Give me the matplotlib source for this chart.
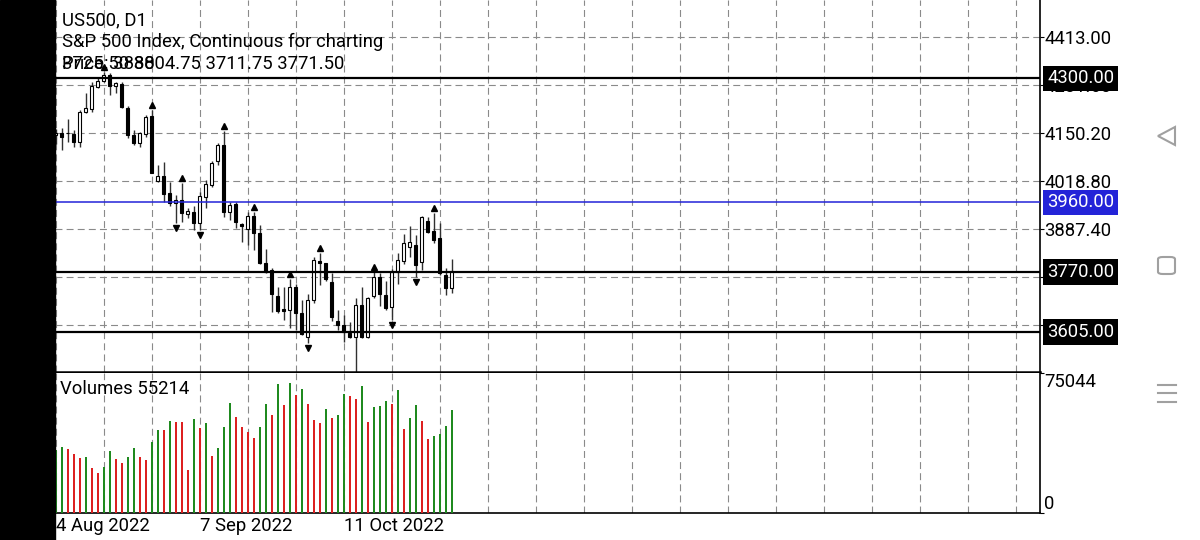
import numpy as np
import matplotlib.pyplot as plt
import matplotlib.transforms as mtransforms
from matplotlib.patches import Rectangle, Polygon, FancyBboxPatch
from matplotlib.lines import Line2D

plt.rcParams['font.family'] = ['Roboto', 'DejaVu Sans']
plt.rcParams['lines.scale_dashes'] = False

# daily bars, US500 D1 (bar 0 = 4 Aug 2022)
opens = [4145.0, 4151.0, 4150.5, 4147.5, 4126.4, 4206.9, 4215.1, 4275.3, 4293.4, 4309.0,
         4278.9, 4284.4, 4220.0, 4144.7, 4123.6, 4146.7, 4196.8, 4019.6, 4032.5, 3986.8,
         3959.4, 3966.8, 3928.5, 3934.8, 3904.6, 3975.8, 4007.9, 4074.4, 4117.4, 3934.8,
         3956.2, 3902.4, 3886.6, 3923.0, 3877.3, 3793.5, 3775.2, 3704.0, 3668.4, 3665.6,
         3729.4, 3656.6, 3591.0, 3693.0, 3800.6, 3793.5, 3743.2, 3635.6, 3624.6, 3603.5,
         3592.6, 3679.4, 3591.0, 3704.0, 3756.8, 3706.7, 3674.7, 3770.5, 3800.6, 3838.9,
         3843.6, 3797.9, 3910.1, 3882.8, 3861.9, 3761.5, 3725.50]
highs = [4160.0, 4163.1, 4187.7, 4158.4, 4213.2, 4260.5, 4290.6, 4304.3, 4317.2, 4315.3,
         4290.6, 4290.6, 4224.1, 4158.4, 4153.8, 4199.5, 4213.2, 4062.6, 4071.6, 4016.9,
         3980.5, 4012.5, 3944.1, 3950.4, 3989.5, 4021.5, 4074.4, 4122.0, 4155.7, 3962.2,
         3962.2, 3904.0, 3934.8, 3934.8, 3898.4, 3831.8, 3779.8, 3729.4, 3729.4, 3749.7,
         3736.8, 3693.0, 3709.5, 3811.6, 3820.9, 3795.1, 3766.1, 3665.6, 3651.9, 3633.6,
         3697.7, 3729.4, 3702.1, 3770.5, 3766.1, 3745.9, 3777.1, 3820.9, 3873.7, 3895.6,
         3871.0, 3923.0, 3921.1, 3930.4, 3904.6, 3779.8, 3804.75]
lows = [4120.0, 4103.7, 4126.4, 4112.7, 4112.7, 4205.0, 4208.5, 4272.6, 4290.6, 4254.2,
        4258.9, 4217.8, 4136.5, 4117.4, 4112.7, 4140.1, 4040.7, 4016.0, 3962.2, 3950.4,
        3903.0, 3907.4, 3916.7, 3884.7, 3884.7, 3944.1, 4003.2, 4062.6, 3921.1, 3913.3,
        3889.4, 3852.6, 3843.6, 3829.9, 3791.6, 3766.1, 3661.0, 3656.6, 3638.3, 3615.6,
        3610.9, 3597.2, 3574.5, 3685.7, 3734.1, 3746.0, 3636.4, 3610.9, 3578.9, 3588.2,
        3497.0, 3588.2, 3588.2, 3697.7, 3676.6, 3665.6, 3638.3, 3736.8, 3791.6, 3811.6,
        3756.8, 3775.2, 3875.6, 3848.2, 3761.5, 3707.6, 3711.75]
closes = [4150.0, 4138.4, 4151.0, 4126.4, 4208.5, 4217.8, 4279.7, 4293.4, 4309.0, 4278.9,
          4287.9, 4222.2, 4144.7, 4123.6, 4149.4, 4194.8, 4041.5, 4033.3, 3983.2, 3957.7,
          3966.8, 3930.4, 3936.7, 3904.6, 3977.7, 4009.8, 4066.9, 4117.4, 3934.8, 3953.1,
          3907.4, 3895.0, 3923.0, 3877.3, 3794.3, 3770.5, 3709.5, 3663.8, 3663.8, 3727.8,
          3656.6, 3600.0, 3693.0, 3802.5, 3793.5, 3749.7, 3647.3, 3624.6, 3606.3, 3591.0,
          3679.4, 3592.6, 3697.7, 3756.8, 3709.5, 3670.3, 3770.5, 3802.5, 3850.0, 3852.6,
          3788.8, 3921.1, 3880.0, 3857.3, 3766.1, 3725.1, 3771.50]
volumes = [34000, 35540, 34306, 31465, 29642, 29857, 24121, 21441, 24497, 33234,
           28785, 26962, 30018, 34842, 30018, 28571, 38058, 44490, 44330, 49315,
           48940, 48779, 23210, 50387, 45723, 48082, 30393, 34681, 45938, 58963,
           51620, 45938, 43258, 40202, 46099, 58427, 52531, 68987, 58052, 69523,
           63252, 66468, 58588, 49851, 48243, 55747, 50923, 52370, 63949, 62876,
           60947, 68237, 48779, 56980, 57516, 59874, 58267, 65932, 44866, 50923,
           58052, 49315, 39827, 41274, 42507, 46635, 55214]

fractal_up = [8, 16, 21, 28, 33, 39, 44, 53, 63]
fractal_down = [20, 24, 42, 56, 60]

price_ticks = [4413.00, 4281.60, 4150.20, 4018.80, 3887.40, 3756.00, 3624.60]
levels = [4300.00, 3960.00, 3770.00, 3605.00]
level_colors = ['black', '#2323d8', 'black', 'black']
date_pos = [0, 24, 48]
date_labels = ['4 Aug 2022', '7 Sep 2022', '11 Oct 2022']
vol_max = 75044

opens = np.array(opens); closes = np.array(closes)
highs = np.array(highs); lows = np.array(lows)
volumes = np.array(volumes)
x = np.arange(len(opens))

W, H = 1200, 540
fig = plt.figure(figsize=(W / 100, H / 100), dpi=100)
fig.patch.set_facecolor('white')

def fx(px):
    return px / W

def fy(py):
    return 1 - py / H

ax = fig.add_axes([fx(55), fy(372), fx(1040) - fx(55), fy(0) - fy(372)])
axv = fig.add_axes([fx(55), fy(513), fx(1040) - fx(55), fy(373) - fy(513)])

xmin, xmax = -0.12, 164.05
grid_kw = dict(color='#8a8a8a', lw=0.8, dashes=(5, 3), zorder=0)
FS = 13.3

# ---- price panel
ax.set_xlim(xmin, xmax)
ax.set_ylim(3495.9, 4514.3)
for p in price_ticks:
    ax.axhline(p, **grid_kw)
for g in range(0, int(xmax) + 1, 8):
    ax.axvline(g, **grid_kw)
    axv.axvline(g, **grid_kw)

bull = closes >= opens
ax.vlines(x, lows, highs, color='#303030', lw=1.0, zorder=2)
ax.bar(x, np.abs(closes - opens), bottom=np.minimum(opens, closes), width=0.5,
       color=np.where(bull, 'white', 'black'), edgecolor='black', lw=0.8, zorder=3)

up_tr = mtransforms.offset_copy(ax.transData, fig=fig, y=5, units='dots')
dn_tr = mtransforms.offset_copy(ax.transData, fig=fig, y=-5, units='dots')
ax.plot(x[fractal_up], highs[fractal_up], '^', ms=4.5, color='black', transform=up_tr, zorder=4)
ax.plot(x[fractal_down], lows[fractal_down], 'v', ms=4.5, color='black', transform=dn_tr, zorder=4)

for lv, c in zip(levels, level_colors):
    ax.axhline(lv, color=c, lw=1.6 if c == 'black' else 1.1, zorder=5)

ax.yaxis.tick_right()
ax.set_yticks(price_ticks)
ax.set_yticklabels([f'{p:.2f}' for p in price_ticks], fontsize=FS)
ax.tick_params(axis='y', length=3, width=0.8, pad=0, colors='black')
ax.set_xticks([])
ax.spines['top'].set_visible(False)
ax.spines['bottom'].set_linewidth(1.8)
for s in ('left', 'right'):
    ax.spines[s].set_linewidth(1.2)

ytr = mtransforms.blended_transform_factory(ax.transAxes, ax.transData)
for lv, c in zip(levels, level_colors):
    ax.text(1 + 7 / 985, lv, f'{lv:.2f}', transform=ytr, ha='left', va='center',
            fontsize=FS, color='white', zorder=10, clip_on=False,
            bbox=dict(boxstyle='square,pad=0.2', fc=c, ec='none'))

ax.text(fx(62), fy(20), 'US500, D1', transform=fig.transFigure, fontsize=FS, va='center', zorder=10)
ax.text(fx(62), fy(42), 'S&P 500 Index, Continuous for charting', transform=fig.transFigure,
        fontsize=FS, va='center', zorder=10)
ax.text(fx(62), fy(64), 'Price: 3880', transform=fig.transFigure, fontsize=FS, va='center', zorder=10)
ax.text(fx(62), fy(64), '3725.50 3804.75 3711.75 3771.50', transform=fig.transFigure,
        fontsize=FS, va='center', zorder=10)

# ---- volume panel
vcol = ['#1f8a1f' if i == 0 or volumes[i] >= volumes[i - 1] else '#dd2020' for i in range(len(volumes))]
axv.bar(x, volumes, width=0.33, color=vcol, zorder=3)
axv.set_xlim(xmin, xmax)
axv.set_ylim(0, vol_max)
axv.yaxis.tick_right()
axv.set_yticks([0, vol_max])
axv.set_yticklabels(['0', str(vol_max)], fontsize=FS)
labs = axv.get_yticklabels()
labs[0].set_va('bottom')
labs[1].set_va('top')
axv.tick_params(axis='y', length=3, width=0.8, pad=0)
axv.set_xticks(date_pos)
axv.set_xticklabels(date_labels, fontsize=FS, ha='left')
axv.tick_params(axis='x', length=0, pad=3)
axv.spines['top'].set_visible(False)
for s in ('left', 'right', 'bottom'):
    axv.spines[s].set_linewidth(1.2)
axv.text(0.005, 0.886, f'Volumes {volumes[-1]}', transform=axv.transAxes, fontsize=FS,
         va='center', zorder=10)

# left black strip and phone nav icons
fig.add_artist(Rectangle((0, 0), fx(55), 1, transform=fig.transFigure, color='black', zorder=20))
ic = '#a0a0a0'
fig.add_artist(Polygon([(fx(1175), fy(127)), (fx(1175), fy(145)), (fx(1158), fy(136))], closed=True,
                       fill=False, ec=ic, lw=1.5, transform=fig.transFigure))
fig.add_artist(FancyBboxPatch((fx(1158), fy(274)), fx(17), 17 / H, boxstyle='round,pad=0,rounding_size=0.004',
                              fill=False, ec=ic, lw=1.5, transform=fig.transFigure))
for yy in (385, 393, 402):
    fig.add_artist(Line2D([fx(1158), fx(1176)], [fy(yy), fy(yy)], color=ic, lw=1.5,
                          transform=fig.transFigure))

fig.savefig('out.png', dpi=100)
